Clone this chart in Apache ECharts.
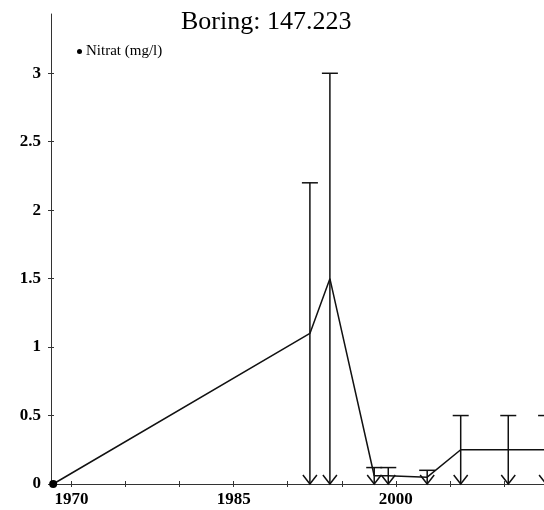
<!DOCTYPE html>
<html>
<head>
<meta charset="utf-8">
<script src="https://cdn.jsdelivr.net/npm/echarts@6/dist/echarts.min.js"></script>
<style>
  html, body { margin: 0; padding: 0; background: #fff; overflow: hidden; }
  #chart { width: 544px; height: 510px; }
</style>
</head>
<body>
<div id="chart"></div>
<script>
// Nitrate measurements for borehole 147.223
const sampleYears = [1968.3, 1992.05, 1993.9, 1998.0, 1999.3, 2002.9, 2006.0, 2010.4, 2013.9];
const nitrateValues = [0, 1.1, 1.5, 0.06, 0.06, 0.05, 0.25, 0.25, 0.25];
const nitrateErrors = [0, 1.1, 1.5, 0.06, 0.06, 0.05, 0.25, 0.25, 0.25];
const xTickValues = [1970, 1975, 1980, 1985, 1990, 1995, 2000, 2005, 2010, 2015];
const xLabelValues = [1970, 1985, 2000];
const yTickValues = [0, 0.5, 1, 1.5, 2, 2.5, 3];

const serif = '"Liberation Serif", "Times New Roman", serif';
const ink = '#111';

const lineData = sampleYears.map((y, i) => [y, nitrateValues[i]]);
const errData = sampleYears.map((y, i) => [y, nitrateValues[i], nitrateErrors[i]])
  .filter(d => d[2] > 0);

const X_MIN = 1968.1, X_MAX = 2018.1;
const Y_MIN = 0, Y_MAX = 3.433;

// vertical error bar: cap on top, arrow head where the lower bound reaches zero
function renderErrorBar(params, api) {
  const x = api.value(0), v = api.value(1), e = api.value(2);
  const lo = Math.max(v - e, 0);
  const top = api.coord([x, v + e]);
  const bot = api.coord([x, lo]);
  const capHalf = 8, arrowHalf = 7, arrowH = 9;
  const style = { stroke: ink, lineWidth: 1.5, fill: null };
  const children = [
    { type: 'line', shape: { x1: top[0], y1: top[1], x2: bot[0], y2: bot[1] }, style },
    { type: 'line', shape: { x1: top[0] - capHalf, y1: top[1], x2: top[0] + capHalf, y2: top[1] }, style }
  ];
  if (v - e <= 0) {
    children.push({
      type: 'polyline',
      shape: { points: [[bot[0] - arrowHalf, bot[1] - arrowH], [bot[0], bot[1]], [bot[0] + arrowHalf, bot[1] - arrowH]] },
      style
    });
  }
  return { type: 'group', children };
}

const chart = echarts.init(document.getElementById('chart'), null, { renderer: 'canvas' });

const baseX = {
  type: 'value', min: X_MIN, max: X_MAX, splitLine: { show: false }
};
const baseY = {
  type: 'value', min: Y_MIN, max: Y_MAX, splitLine: { show: false }
};

chart.setOption({
  animation: false,
  backgroundColor: '#fff',
  title: {
    text: 'Boring: 147.223',
    left: 176, top: 4,
    textStyle: { fontFamily: serif, fontSize: 26, fontWeight: 'normal', color: '#000' }
  },
  legend: {
    left: 72, top: 39,
    icon: 'circle', itemWidth: 5, itemHeight: 5, itemGap: 4,
    textStyle: { fontFamily: serif, fontSize: 15, color: '#000', padding: [0, 0, 0, -1] },
    data: ['Nitrat (mg/l)']
  },
  // the plot area runs past the right edge of the canvas
  grid: {
    left: 51, width: 540.5, top: 14, bottom: 26,
    containLabel: false, outerBoundsMode: 'none'
  },
  xAxis: [
    Object.assign({}, baseX, {
      position: 'bottom',
      axisLine: { show: true, onZero: false, lineStyle: { color: '#333', width: 1 } },
      axisTick: { show: true, length: 3, customValues: xTickValues, lineStyle: { color: '#333' } },
      axisLabel: {
        customValues: xLabelValues, margin: 7,
        fontFamily: serif, fontSize: 17, fontWeight: 'bold', color: '#000',
        formatter: v => String(v)
      }
    }),
    Object.assign({}, baseX, {
      position: 'bottom',
      axisLine: { show: false, onZero: false },
      axisTick: { show: true, inside: true, length: 3, customValues: xTickValues, lineStyle: { color: '#333' } },
      axisLabel: { show: false }
    })
  ],
  yAxis: [
    Object.assign({}, baseY, {
      position: 'left',
      axisLine: { show: true, onZero: false, lineStyle: { color: '#333', width: 1 } },
      axisTick: { show: true, length: 3, customValues: yTickValues, lineStyle: { color: '#333' } },
      axisLabel: {
        customValues: yTickValues, margin: 10,
        fontFamily: serif, fontSize: 17, fontWeight: 'bold', color: '#000',
        formatter: v => String(v)
      }
    }),
    Object.assign({}, baseY, {
      position: 'left',
      axisLine: { show: false, onZero: false },
      axisTick: { show: true, inside: true, length: 3, customValues: yTickValues, lineStyle: { color: '#333' } },
      axisLabel: { show: false }
    })
  ],
  series: [
    {
      name: 'Nitrat (mg/l)',
      type: 'line',
      xAxisIndex: 0, yAxisIndex: 0,
      data: lineData,
      symbol: 'circle',
      symbolSize: (val, p) => (p.dataIndex === 0 ? 8 : 0),
      showSymbol: true,
      itemStyle: { color: '#000' },
      lineStyle: { color: ink, width: 1.5 },
      clip: false,
      z: 3
    },
    {
      name: 'error',
      type: 'custom',
      xAxisIndex: 0, yAxisIndex: 0,
      data: errData,
      renderItem: renderErrorBar,
      encode: { x: 0, y: [1, 2] },
      z: 2
    }
  ]
});
</script>
</body>
</html>
